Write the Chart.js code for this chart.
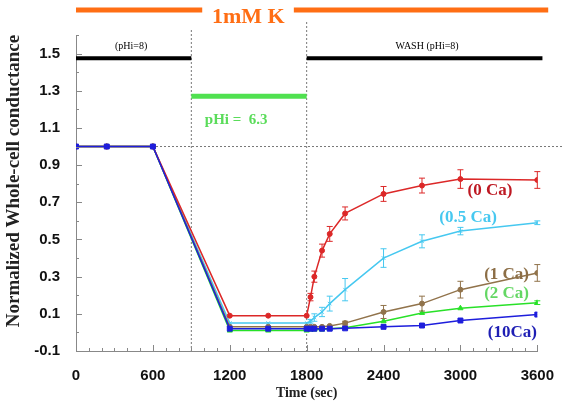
<!DOCTYPE html>
<html>
<head>
<meta charset="utf-8">
<script src="https://cdn.jsdelivr.net/npm/chart.js@4.4.1/dist/chart.umd.min.js"></script>
<style>
  html, body { margin: 0; padding: 0; background: #fff; }
</style>
</head>
<body>
<canvas id="chart" width="562" height="405"></canvas>
<script>
// time points (sec)
const timeSec = [0, 240, 600, 1200, 1500, 1800, 1830, 1860, 1920, 1980, 2100, 2400, 2700, 3000, 3600];

// normalized conductance per [Ca]
const ca0  = [1, 1, 1, 0.09, 0.09, 0.09, 0.19, 0.30, 0.44, 0.53, 0.64, 0.745, 0.79, 0.825, 0.82];
const ca05 = [1, 1, 1, 0.05, 0.05, 0.05, 0.06, 0.08, 0.11, 0.155, 0.23, 0.40, 0.49, 0.545, 0.59];
const ca1  = [1, 1, 1, 0.03, 0.03, 0.03, 0.03, 0.03, 0.03, 0.035, 0.05, 0.11, 0.155, 0.23, 0.32];
const ca2  = [1, 1, 1, 0.01, 0.01, 0.01, 0.015, 0.015, 0.015, 0.02, 0.025, 0.06, 0.105, 0.13, 0.16];
const ca10 = [1, 1, 1, 0.02, 0.02, 0.02, 0.02, 0.02, 0.02, 0.02, 0.022, 0.03, 0.037, 0.064, 0.096];

// error bars (+/-)
const err0  = [0, 0, 0, 0, 0, 0, 0.02, 0.03, 0.035, 0.04, 0.035, 0.04, 0.04, 0.05, 0.045];
const err05 = [0, 0, 0, 0, 0, 0, 0.01, 0.02, 0.025, 0.04, 0.06, 0.05, 0.035, 0.02, 0.01];
const err1  = [0, 0, 0, 0, 0, 0, 0, 0, 0, 0, 0.01, 0.035, 0.04, 0.045, 0.045];
const err2  = [0, 0, 0, 0, 0, 0, 0, 0, 0, 0, 0, 0, 0, 0, 0.01];
const err10 = [0, 0, 0, 0, 0, 0, 0, 0, 0, 0, 0, 0, 0, 0, 0];

const xTicks = [0, 600, 1200, 1800, 2400, 3000, 3600];
const yTicks = [-0.1, 0.1, 0.3, 0.5, 0.7, 0.9, 1.1, 1.3, 1.5];

const seriesNames = ['(0 Ca)', '(0.5 Ca)', '(1 Ca)', '(2 Ca)', '(10Ca)'];

const pts = vals => timeSec.map((t, i) => ({ x: t, y: vals[i] }));

const serif = '"Liberation Serif", "DejaVu Serif", serif';
const sans = '"Liberation Sans", Arial, sans-serif';

// labels next to the curves
const seriesLabels = [
  { text: seriesNames[0], x: 3230, y: 0.765, color: 'rgb(190,25,35)' },
  { text: seriesNames[1], x: 3060, y: 0.615, color: 'rgb(70,200,240)' },
  { text: seriesNames[2], x: 3360, y: 0.31, color: 'rgb(140,110,70)' },
  { text: seriesNames[3], x: 3360, y: 0.21, color: 'rgb(100,215,100)' },
  { text: seriesNames[4], x: 3405, y: 0.0, color: 'rgb(30,30,180)' }
];

const overlay = {
  id: 'overlay',
  beforeDatasetsDraw(chart) {
    const { ctx, chartArea: a, scales: { x, y } } = chart;
    ctx.save();
    // dotted guides
    ctx.strokeStyle = '#777';
    ctx.lineWidth = 1;
    ctx.setLineDash([2, 2]);
    ctx.beginPath();
    ctx.moveTo(x.getPixelForValue(900), 30);
    ctx.lineTo(x.getPixelForValue(900), a.bottom);
    ctx.moveTo(x.getPixelForValue(1800), 22);
    ctx.lineTo(x.getPixelForValue(1800), a.bottom);
    ctx.moveTo(a.left, y.getPixelForValue(1.0));
    ctx.lineTo(562, y.getPixelForValue(1.0));
    ctx.stroke();
    ctx.setLineDash([]);

    // treatment bars
    const bar = (x0, x1, py, w, color) => {
      ctx.strokeStyle = color;
      ctx.lineWidth = w;
      ctx.beginPath();
      ctx.moveTo(x.getPixelForValue(x0), py);
      ctx.lineTo(x.getPixelForValue(x1), py);
      ctx.stroke();
    };
    bar(0, 985, 10, 5, 'rgb(255,110,20)');
    bar(1700, 3685, 10, 5, 'rgb(255,110,20)');
    bar(0, 900, y.getPixelForValue(1.475), 4, '#000');
    bar(1800, 3640, y.getPixelForValue(1.475), 4, '#000');
    bar(900, 1800, y.getPixelForValue(1.27), 5, 'rgb(80,225,80)');

    ctx.textAlign = 'center';
    ctx.textBaseline = 'middle';
    ctx.fillStyle = 'rgb(255,110,20)';
    ctx.font = 'bold 22px ' + serif;
    ctx.fillText('1mM K', x.getPixelForValue(1345), 17);
    ctx.fillStyle = '#000';
    ctx.font = '10px ' + serif;
    ctx.fillText('(pHi=8)', x.getPixelForValue(430), 46);
    ctx.fillText('WASH (pHi=8)', x.getPixelForValue(2740), 46);
    ctx.fillStyle = 'rgb(90,220,90)';
    ctx.font = 'bold 15px ' + serif;
    ctx.fillText('pHi =  6.3', x.getPixelForValue(1250), y.getPixelForValue(1.14));
    ctx.restore();
  },
  afterDatasetsDraw(chart) {
    const { ctx, chartArea: a, scales: { x, y } } = chart;
    ctx.save();
    // error bars
    chart.data.datasets.forEach(ds => {
      ctx.strokeStyle = ds.borderColor;
      ctx.lineWidth = 1;
      ds.err.forEach((e, i) => {
        if (!e) return;
        const px = x.getPixelForValue(timeSec[i]);
        const top = y.getPixelForValue(ds.data[i].y + e);
        const bot = y.getPixelForValue(ds.data[i].y - e);
        ctx.beginPath();
        ctx.moveTo(px, top); ctx.lineTo(px, bot);
        ctx.moveTo(px - 3, top); ctx.lineTo(px + 3, top);
        ctx.moveTo(px - 3, bot); ctx.lineTo(px + 3, bot);
        ctx.stroke();
      });
    });

    // curve labels
    ctx.textAlign = 'center';
    ctx.textBaseline = 'middle';
    ctx.font = 'bold 17px ' + serif;
    seriesLabels.forEach(l => {
      ctx.fillStyle = l.color;
      ctx.fillText(l.text, x.getPixelForValue(l.x), y.getPixelForValue(l.y));
    });

    // inside tick marks
    ctx.strokeStyle = '#888';
    ctx.lineWidth = 1;
    ctx.beginPath();
    for (let t = 0; t <= 3600; t += 100) {
      const px = Math.round(x.getPixelForValue(t)) + 0.5;
      const len = t % 600 === 0 ? 6 : 3;
      ctx.moveTo(px, a.bottom);
      ctx.lineTo(px, a.bottom - len);
    }
    for (let k = -1; k <= 16; k++) {
      const py = Math.round(y.getPixelForValue(k / 10)) + 0.5;
      const len = Math.abs(k % 2) === 1 ? 6 : 3;
      ctx.moveTo(a.left, py);
      ctx.lineTo(a.left + len, py);
    }
    ctx.stroke();

    // axis titles
    ctx.fillStyle = '#222';
    ctx.font = 'bold 14px ' + serif;
    ctx.fillText('Time (sec)', x.getPixelForValue(1800), 393);
    ctx.translate(14, 181);
    ctx.rotate(-Math.PI / 2);
    ctx.font = 'bold 19px ' + serif;
    ctx.fillText('Normalized Whole-cell conductance', 0, 0);
    ctx.restore();
  }
};

const mk = (label, vals, err, color, style, r, order) => ({
  label, data: pts(vals), err, order,
  borderColor: color, backgroundColor: color,
  borderWidth: 1.5, pointStyle: style, pointRadius: r,
  pointBorderWidth: 1, tension: 0
});

new Chart(document.getElementById('chart'), {
  type: 'line',
  data: {
    datasets: [
      mk(seriesNames[0], ca0, err0, 'rgb(220,40,40)', 'circle', 2.5, 1),
      mk(seriesNames[1], ca05, err05, 'rgb(70,200,240)', 'crossRot', 2.5, 4),
      mk(seriesNames[2], ca1, err1, 'rgb(145,115,75)', 'circle', 2.5, 2),
      mk(seriesNames[3], ca2, err2, 'rgb(40,225,40)', 'triangle', 3, 3),
      mk(seriesNames[4], ca10, err10, 'rgb(30,30,220)', 'rect', 3.5, 0)
    ]
  },
  options: {
    responsive: false,
    animation: false,
    devicePixelRatio: 1,
    layout: { padding: { top: 35, right: 23, left: 0, bottom: 0 } },
    plugins: { legend: { display: false }, tooltip: { enabled: false } },
    scales: {
      x: {
        type: 'linear', min: 0, max: 3600,
        afterBuildTicks: s => { s.ticks = xTicks.map(v => ({ value: v })); },
        afterFit: s => { s.height = 54; },
        grid: { display: false },
        border: { display: true, color: '#888', width: 1 },
        ticks: { color: '#111', font: { family: sans, size: 15, weight: 'bold' }, padding: 8, maxRotation: 0,
                 callback: v => String(v) }
      },
      y: {
        type: 'linear', min: -0.1, max: 1.6,
        afterBuildTicks: s => { s.ticks = yTicks.map(v => ({ value: v })); },
        afterFit: s => { s.width = 76; },
        grid: { display: false },
        border: { display: true, color: '#888', width: 1 },
        ticks: { color: '#111', font: { family: sans, size: 15, weight: 'bold' }, padding: 8,
                 callback: v => v.toFixed(1) }
      }
    }
  },
  plugins: [overlay]
});
</script>
</body>
</html>
